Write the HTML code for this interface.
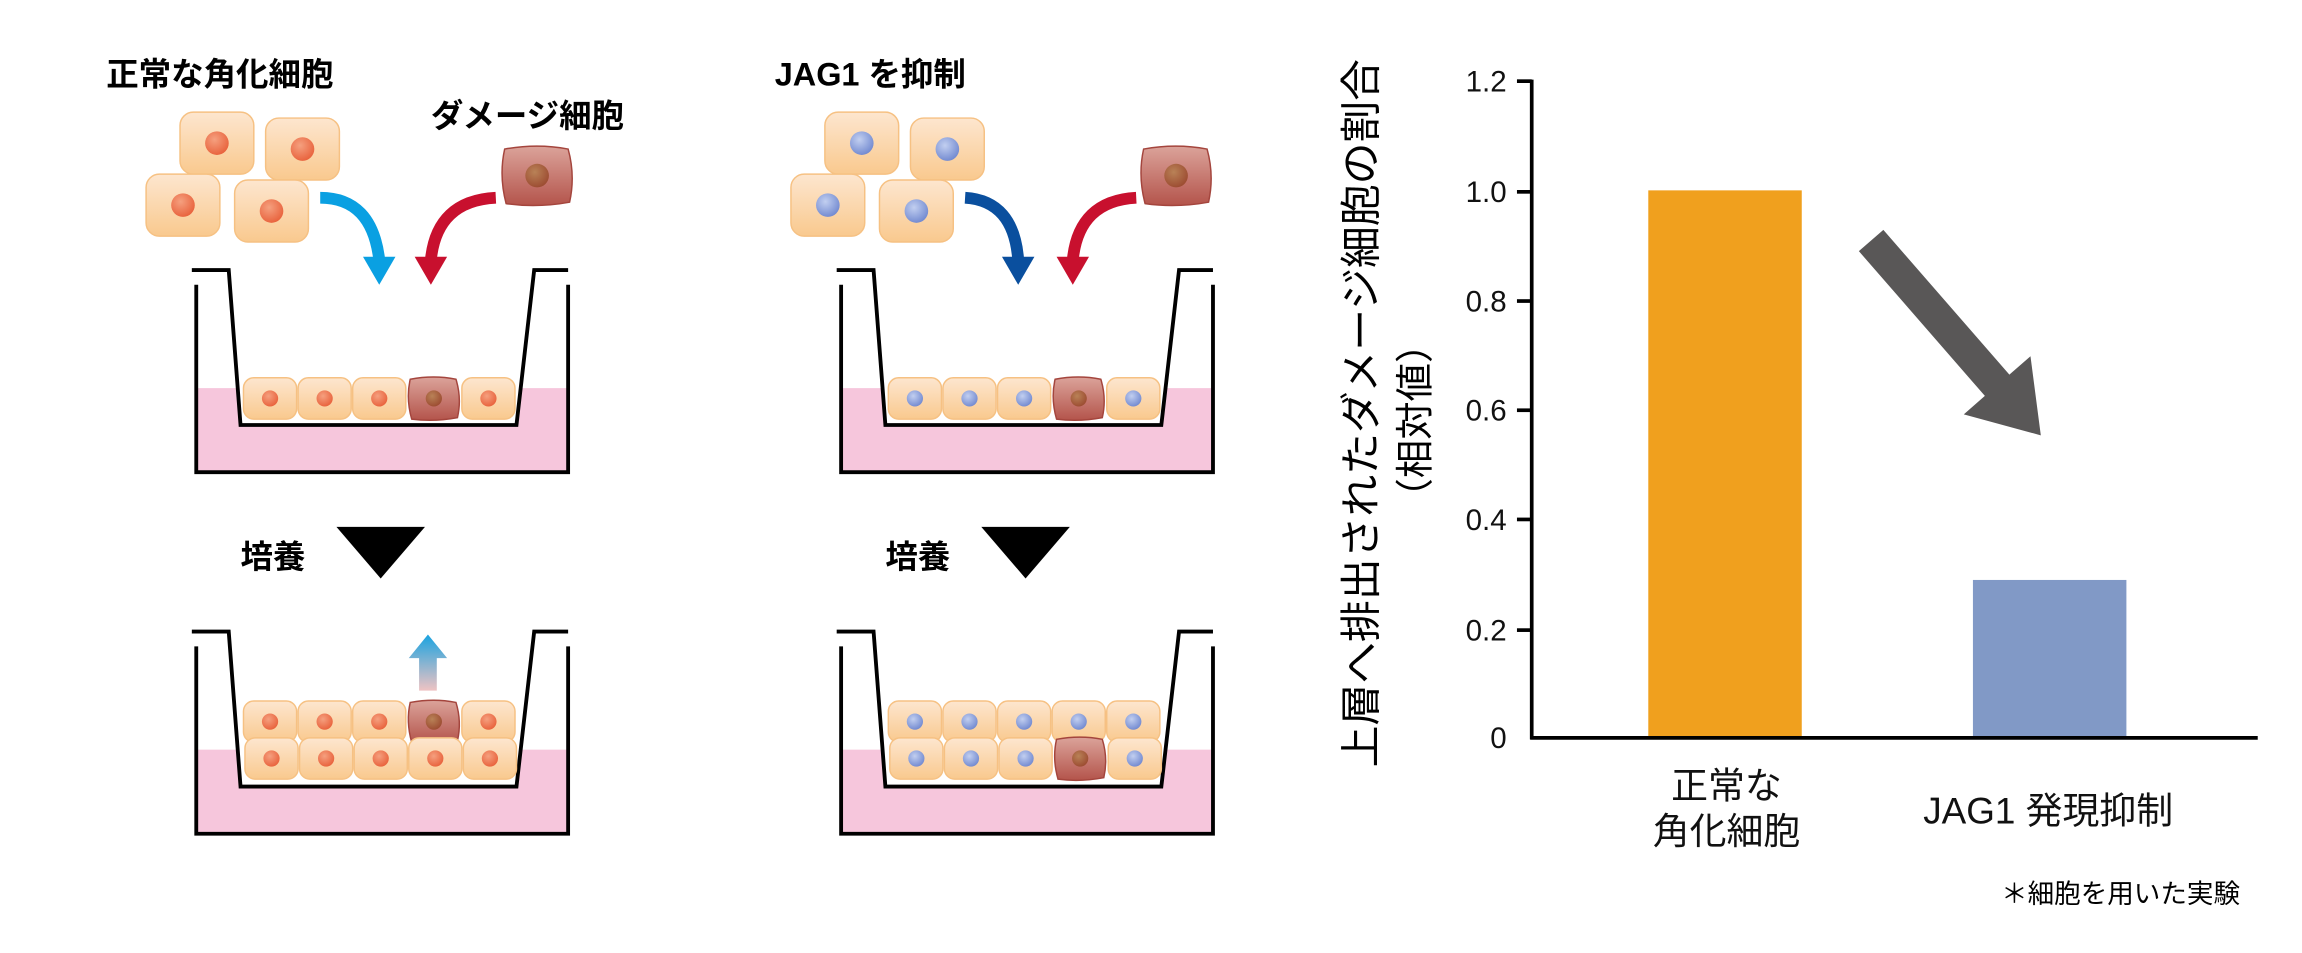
<!DOCTYPE html>
<html><head><meta charset="utf-8"><style>
html,body{margin:0;padding:0;background:#fff;}
svg{display:block;}
text{font-family:"Liberation Sans","Noto Sans CJK JP",sans-serif;}
</style></head><body>
<svg width="2302" height="953" viewBox="0 0 1560 645.8" preserveAspectRatio="none" xmlns="http://www.w3.org/2000/svg">
<defs>
<linearGradient id="cg" x1="0" y1="0" x2="0" y2="1"><stop offset="0" stop-color="#fde6cf"/><stop offset="1" stop-color="#f9c98e"/></linearGradient>
<linearGradient id="dg" x1="0" y1="0" x2="0" y2="1"><stop offset="0" stop-color="#dba39a"/><stop offset="1" stop-color="#b4544b"/></linearGradient>
<radialGradient id="on" cx="0.4" cy="0.35" r="0.7"><stop offset="0" stop-color="#f5a07f"/><stop offset="1" stop-color="#e8603a"/></radialGradient>
<radialGradient id="bn" cx="0.4" cy="0.35" r="0.7"><stop offset="0" stop-color="#c2cff0"/><stop offset="1" stop-color="#6f87cf"/></radialGradient>
<radialGradient id="dn" cx="0.4" cy="0.35" r="0.7"><stop offset="0" stop-color="#b98257"/><stop offset="1" stop-color="#9b4a30"/></radialGradient>
<linearGradient id="ua" x1="0" y1="0" x2="0" y2="1"><stop offset="0" stop-color="#1aa3e0"/><stop offset="1" stop-color="#efc3c3"/></linearGradient>
<g id="oc"><rect x="-18" y="-14" width="36" height="28" rx="7" fill="url(#cg)" stroke="#f6c183" stroke-width="1"/><circle r="5.5" fill="url(#on)"/></g>
<g id="bc"><rect x="-18" y="-14" width="36" height="28" rx="7" fill="url(#cg)" stroke="#f6c183" stroke-width="1"/><circle r="5.5" fill="url(#bn)"/></g>
<g id="dc"><path d="M-16,-13 Q0,-16 15,-13 Q19,0 16,13 Q0,16 -15,14 Q-19,0 -16,-13Z" fill="url(#dg)" stroke="#a4453d" stroke-width="1"/><circle r="5.5" fill="url(#dn)"/></g>
<g id="ocL"><rect x="-25" y="-21" width="50" height="42" rx="9" fill="url(#cg)" stroke="#f6c183" stroke-width="1"/><circle r="8" fill="url(#on)"/></g>
<g id="bcL"><rect x="-25" y="-21" width="50" height="42" rx="9" fill="url(#cg)" stroke="#f6c183" stroke-width="1"/><circle r="8" fill="url(#bn)"/></g>
<g id="dcL"><path d="M-22,-18 Q0,-22 21,-18 Q26,0 22,18 Q0,22 -21,19 Q-26,0 -22,-18Z" fill="url(#dg)" stroke="#a4453d" stroke-width="1"/><circle r="8" fill="url(#dn)"/></g>
<g id="beaker">
<rect x="133" y="263" width="252" height="57" fill="#f6c6dc"/>
<polygon points="155,183 362,183 350,288 163,288" fill="#fff"/>
<polyline points="130,183 155,183 163,288 350,288 362,183 385,183" fill="none" stroke="#000" stroke-width="2.6"/>
<polyline points="133,193 133,320 385,320 385,193" fill="none" stroke="#000" stroke-width="2.6"/>
</g>
</defs>

<!-- LEFT PANEL -->
<use href="#beaker"/>
<text x="72" y="58" font-size="22" font-weight="bold">正常な角化細胞</text>
<text x="292" y="86" font-size="22" font-weight="bold">ダメージ細胞</text>
<use href="#ocL" x="147" y="97"/><use href="#ocL" x="205" y="101"/><use href="#ocL" x="124" y="139"/><use href="#ocL" x="184" y="143"/>
<use href="#dcL" x="364" y="119"/>
<path d="M217,134 Q252,134 257,176" fill="none" stroke="#0aa0e2" stroke-width="8"/>
<polygon points="246,174 268,174 257,193" fill="#0aa0e2"/>
<path d="M336,134 Q296,136 292,176" fill="none" stroke="#c8102e" stroke-width="8"/>
<polygon points="281,174 303,174 292,193" fill="#c8102e"/>
<use href="#oc" x="183" y="270"/><use href="#oc" x="220" y="270"/><use href="#oc" x="257" y="270"/><use href="#dc" x="294" y="270"/><use href="#oc" x="331" y="270"/>

<text x="163" y="385" font-size="22" font-weight="bold">培養</text>
<polygon points="228,357 288,357 258,392" fill="#000"/>

<use href="#beaker" y="245"/>
<polygon points="290,430 303,446 296,446 296,468 284,468 284,446 277,446" fill="url(#ua)"/>
<use href="#oc" x="183" y="489"/><use href="#oc" x="220" y="489"/><use href="#oc" x="257" y="489"/><use href="#dc" x="294" y="489"/><use href="#oc" x="331" y="489"/>
<use href="#oc" x="184" y="514"/><use href="#oc" x="221" y="514"/><use href="#oc" x="258" y="514"/><use href="#oc" x="295" y="514"/><use href="#oc" x="332" y="514"/>

<!-- RIGHT PANEL -->
<use href="#beaker" x="437"/>
<text x="525" y="58" font-size="22" font-weight="bold">JAG1 を抑制</text>
<use href="#bcL" x="584" y="97"/><use href="#bcL" x="642" y="101"/><use href="#bcL" x="561" y="139"/><use href="#bcL" x="621" y="143"/>
<use href="#dcL" x="797" y="119"/>
<path d="M654,134 Q687,136 690,176" fill="none" stroke="#0a4f9e" stroke-width="8"/>
<polygon points="679,174 701,174 690,193" fill="#0a4f9e"/>
<path d="M770,134 Q731,136 727,176" fill="none" stroke="#c8102e" stroke-width="8"/>
<polygon points="716,174 738,174 727,193" fill="#c8102e"/>
<use href="#bc" x="620" y="270"/><use href="#bc" x="657" y="270"/><use href="#bc" x="694" y="270"/><use href="#dc" x="731" y="270"/><use href="#bc" x="768" y="270"/>

<text x="600" y="385" font-size="22" font-weight="bold">培養</text>
<polygon points="665,357 725,357 695,392" fill="#000"/>

<use href="#beaker" x="437" y="245"/>
<use href="#bc" x="620" y="489"/><use href="#bc" x="657" y="489"/><use href="#bc" x="694" y="489"/><use href="#bc" x="731" y="489"/><use href="#bc" x="768" y="489"/>
<use href="#bc" x="621" y="514"/><use href="#bc" x="658" y="514"/><use href="#bc" x="695" y="514"/><use href="#dc" x="732" y="514"/><use href="#bc" x="769" y="514"/>

<!-- CHART -->
<rect x="1117" y="129" width="104" height="371" fill="#f0a01e"/>
<rect x="1337" y="393" width="104" height="107" fill="#8199c6"/>
<g stroke="#000" stroke-width="2.5" fill="none">
<line x1="1038" y1="54" x2="1038" y2="501"/>
<line x1="1037" y1="500" x2="1530" y2="500"/>
<line x1="1028" y1="55" x2="1038" y2="55"/><line x1="1028" y1="130" x2="1038" y2="130"/><line x1="1028" y1="204" x2="1038" y2="204"/><line x1="1028" y1="278" x2="1038" y2="278"/><line x1="1028" y1="352" x2="1038" y2="352"/><line x1="1028" y1="427" x2="1038" y2="427"/>
</g>
<g font-size="20" text-anchor="end" fill="#111">
<text x="1021" y="62">1.2</text><text x="1021" y="137">1.0</text><text x="1021" y="211">0.8</text><text x="1021" y="285">0.6</text><text x="1021" y="359">0.4</text><text x="1021" y="434">0.2</text><text x="1021" y="507">0</text>
</g>
<polygon points="1276.3,155.8 1361.7,253.9 1376,241.4 1383,295 1330.8,280.8 1345.1,268.3 1259.7,170.2" fill="#595757"/>
<g font-size="25" text-anchor="middle" fill="#111">
<text x="1170" y="541">正常な</text>
<text x="1170" y="572">角化細胞</text>
<text x="1388" y="558">JAG1 発現抑制</text>
</g>
<text x="1518" y="612" font-size="18" text-anchor="end">＊細胞を用いた実験</text>
<text transform="translate(932,280) rotate(-90)" font-size="28" text-anchor="middle" textLength="480" lengthAdjust="spacingAndGlyphs">上層へ排出されたダメージ細胞の割合</text>
<text transform="translate(968,285) rotate(-90)" font-size="26" text-anchor="middle">（相対値）</text>
</svg>
</body></html>
